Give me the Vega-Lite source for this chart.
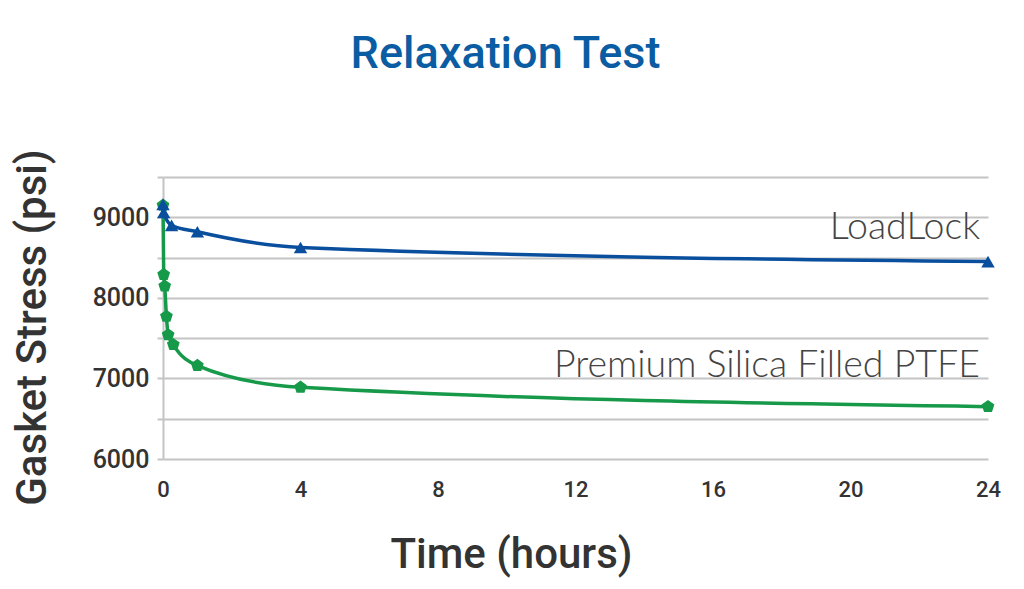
{
  "$schema": "https://vega.github.io/schema/vega-lite/v6.json",
  "autosize": {"type": "none"},
  "width": 825,
  "height": 282,
  "padding": {"left": 163, "top": 177, "right": 36, "bottom": 130},
  "background": "white",
  "title": {
    "text": "Relaxation Test",
    "font": "Roboto",
    "fontSize": 45,
    "fontWeight": 500,
    "color": "#0a5ca3",
    "anchor": "middle",
    "frame": "group",
    "dx": -70,
    "offset": 72
  },
  "config": {
    "view": {"stroke": null},
    "axis": {"labelFont": "Roboto", "titleFont": "Roboto", "labelColor": "#333333", "titleColor": "#333333"}
  },
  "datasets": {
    "series": [
      {"series": "PTFE", "hours": 0, "stress": 9150},
      {"series": "PTFE", "hours": 0.02, "stress": 8290},
      {"series": "PTFE", "hours": 0.05, "stress": 8145},
      {"series": "PTFE", "hours": 0.1, "stress": 7770},
      {"series": "PTFE", "hours": 0.15, "stress": 7540},
      {"series": "PTFE", "hours": 0.3, "stress": 7420},
      {"series": "PTFE", "hours": 1, "stress": 7160},
      {"series": "PTFE", "hours": 4, "stress": 6890},
      {"series": "PTFE", "hours": 24, "stress": 6650},
      {"series": "LoadLock", "hours": 0, "stress": 9160},
      {"series": "LoadLock", "hours": 0.02, "stress": 9060},
      {"series": "LoadLock", "hours": 0.25, "stress": 8900},
      {"series": "LoadLock", "hours": 1, "stress": 8820},
      {"series": "LoadLock", "hours": 4, "stress": 8625},
      {"series": "LoadLock", "hours": 24, "stress": 8450}
    ],
    "labels": [
      {"label": "LoadLock", "hours": 24, "stress": 8870},
      {"label": "Premium Silica Filled PTFE", "hours": 24, "stress": 7150}
    ]
  },
  "layer": [
    {
      "data": {"name": "series"},
      "mark": {"type": "line", "interpolate": "monotone", "strokeWidth": 3.5},
      "encoding": {
        "x": {
          "field": "hours", "type": "quantitative",
          "scale": {"domain": [0, 24], "nice": false},
          "axis": {
            "values": [0, 4, 8, 12, 16, 20, 24],
            "grid": false, "domain": false, "ticks": false, "labelFlush": false,
            "labelFontSize": 22, "labelFontWeight": 500, "labelPadding": 20,
            "title": "Time (hours)", "titleFontSize": 42, "titleFontWeight": 500, "titlePadding": 34,
            "titleX": 348, "titleAlign": "center", "titleAnchor": null
          }
        },
        "y": {
          "field": "stress", "type": "quantitative",
          "scale": {"domain": [6000, 9500], "nice": false, "zero": false},
          "axis": {
            "values": [6000, 6500, 7000, 7500, 8000, 8500, 9000, 9500],
            "labelExpr": "datum.value % 1000 === 0 ? datum.label : ''",
            "format": "d",
            "grid": true, "gridColor": "#c4c4c4", "gridWidth": 2,
            "domain": true, "domainColor": "#c4c4c4", "domainWidth": 2,
            "ticks": true, "tickColor": "#c4c4c4", "tickSize": 6, "tickWidth": 2,
            "labelFontSize": 25, "labelFontWeight": 500, "labelPadding": 8,
            "title": "Gasket Stress (psi)", "titleFontSize": 42, "titleFontWeight": 500, "titlePadding": 38,
            "titleY": 150, "titleAlign": "center"
          }
        },
        "color": {
          "field": "series", "type": "nominal",
          "scale": {"domain": ["LoadLock", "PTFE"], "range": ["#0a4f9e", "#17994a"]},
          "legend": null
        }
      }
    },
    {
      "data": {"name": "series"},
      "mark": {"type": "point", "filled": true, "opacity": 1, "size": 180},
      "encoding": {
        "x": {"field": "hours", "type": "quantitative"},
        "y": {"field": "stress", "type": "quantitative"},
        "color": {"field": "series", "type": "nominal", "legend": null},
        "shape": {
          "field": "series", "type": "nominal",
          "scale": {"domain": ["LoadLock", "PTFE"], "range": ["triangle-up", "M0,-1L0.951,-0.309L0.588,0.809L-0.588,0.809L-0.951,-0.309Z"]},
          "legend": null
        }
      }
    },
    {
      "data": {"name": "labels"},
      "mark": {"type": "text", "align": "right", "baseline": "middle", "dx": -8, "font": "Lato", "fontWeight": 300, "fontSize": 37.5, "color": "#444444"},
      "encoding": {
        "x": {"field": "hours", "type": "quantitative"},
        "y": {"field": "stress", "type": "quantitative"},
        "text": {"field": "label"}
      }
    }
  ]
}
